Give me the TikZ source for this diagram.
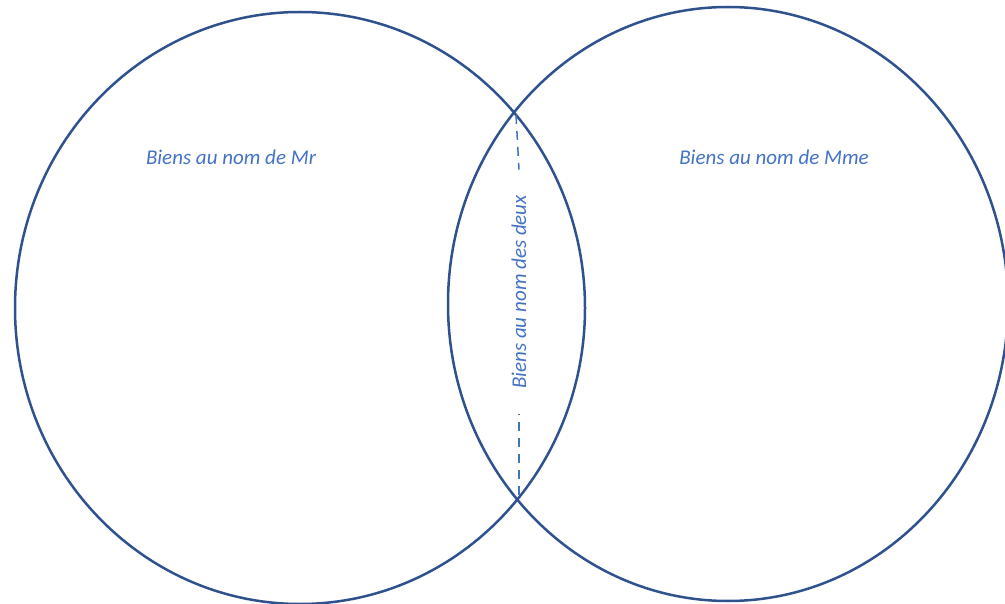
\documentclass[tikz,border=0pt]{standalone}
\usepackage{fontspec}
\setmainfont{Carlito}
\usepackage{tikz}
\usetikzlibrary{positioning}

\definecolor{cercle}{HTML}{2F528F}
\definecolor{texte}{HTML}{4472C4}

\begin{document}
\begin{tikzpicture}[x=1pt,y=-1pt,
    ensemble/.style={draw=cercle, line width=2.5pt},
    etiquette/.style={text=texte, font=\fontsize{21}{25}\selectfont\itshape},
    pointille/.style={draw=texte, line width=1.5pt, dash pattern=on 9pt off 7pt}]
                \useasboundingbox (0,0) rectangle (1005,604);

                % Ensembles
                \draw[ensemble] (300,308) ellipse [x radius=285, y radius=296];
                \draw[ensemble] (728,304) ellipse [x radius=280, y radius=297];

                % Points d'intersection
                \coordinate (haut) at (516,115);
                \coordinate (bas) at (519,495);

                % Etiquettes
                \node[etiquette] (mr) at (231,157) {Biens au nom de Mr};
                \node[etiquette] (mme) at (774,157) {Biens au nom de Mme};
                \node[etiquette, rotate=90] (deux) at (519,292) {Biens au nom des deux};

                % Pointilles
                \draw[pointille] (haut) -- ([yshift=22pt]deux.east);
                \draw[pointille] (bas) -- ([yshift=-22pt]deux.west);
\end{tikzpicture}
\end{document}
